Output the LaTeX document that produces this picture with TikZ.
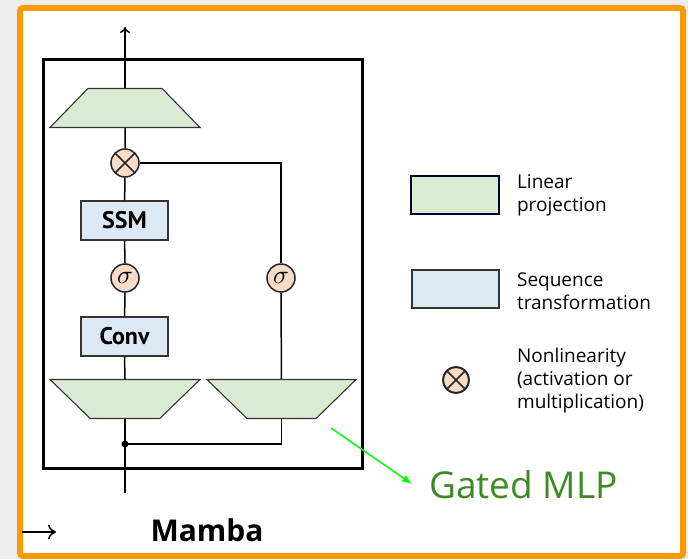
\documentclass[tikz,border=0pt]{standalone}
\usepackage{fontspec}
\usepackage{unicode-math}
\setmainfont{Open Sans}
\setmathfont{Latin Modern Math}
\newfontfamily\boxfont{PT Sans}
\usetikzlibrary{shapes.geometric,arrows.meta}
\definecolor{projgreen}{HTML}{D9EBD1}
\definecolor{seqblue}{HTML}{DCE9F5}
\definecolor{nlpeach}{HTML}{F8DCC8}
\definecolor{frameorange}{HTML}{FF9900}
\definecolor{mlpgreen}{HTML}{3E8A22}
\tikzset{
  proj/.style={trapezium, trapezium stretches=true, draw=black!80, fill=projgreen,
    line width=1.1pt, inner sep=2pt, minimum height=39pt},
  seqbox/.style={rectangle, draw=black!80, fill=seqblue, line width=1.2pt,
    minimum width=87pt, minimum height=39pt, font=\boxfont\bfseries\fontsize{24}{24}\selectfont},
  nlcircle/.style={circle, draw=black!85, fill=nlpeach, line width=1.5pt,
    minimum size=28pt, inner sep=0pt, font=\fontsize{26}{26}\selectfont},
  mulnode/.style={nlcircle, path picture={
    \draw[line width=1.5pt] (path picture bounding box.north west) -- (path picture bounding box.south east);
    \draw[line width=1.5pt] (path picture bounding box.south west) -- (path picture bounding box.north east);}},
  legtext/.style={anchor=west, align=left, font=\fontsize{19}{23}\selectfont}
}
\begin{document}
\begin{tikzpicture}[x=1pt, y=-1pt, line width=1.5pt]
    % 1. Nền và khung cam
    \useasboundingbox (0,0) rectangle (688,559);
    \fill[black!7] (0,0) rectangle (688,559);
    \draw[frameorange, line width=6pt, fill=white, rounded corners=3pt] (20,8) rectangle (683,556);

    % 2. Khối Mamba
    \draw[line width=3pt] (43,60) rectangle (362,468);
    \node[proj, minimum width=150pt, trapezium angle=63] (topproj) at (125,108) {};
    \node[mulnode] (mul) at (125,163) {};
    \node[seqbox] (ssm) at (124.5,220.5) {SSM};
    \node[nlcircle] (sigA) at (125,278) {$\sigma$};
    \node[seqbox] (conv) at (124.5,336.5) {Conv};
    \node[proj, minimum width=150pt, trapezium angle=60, shape border rotate=180] (leftproj) at (125,399) {};
    \node[proj, minimum width=149pt, trapezium angle=60, shape border rotate=180] (rightproj) at (281.5,399) {};
    \node[nlcircle] (sigB) at (281,278) {$\sigma$};
    \coordinate (in) at (125,493);
    \coordinate (out) at (125,27);
    \coordinate (split) at (125,444);

    % 3. Các đường nối
    \draw (in) -- (split) -- (leftproj);
    \draw (leftproj) -- (conv) -- (sigA) -- (ssm) -- (mul) -- (topproj);
    \draw[-{To[length=6pt,width=10pt]}] (topproj) -- (out);
    \draw (split) -| (rightproj);
    \draw (rightproj) -- (sigB);
    \draw (sigB) |- (mul);
    \fill (split) circle (3.5pt);

    % 4. Chú thích
    \node[rectangle, draw=black!80!blue, fill=projgreen, line width=1.2pt,
      minimum width=88pt, minimum height=38pt] (legproj) at (455,195) {};
    \node[legtext] (legprojtxt) at (513,195) {Linear\\projection};
    \node[rectangle, draw=black!80, fill=seqblue, line width=1.2pt,
      minimum width=87pt, minimum height=38pt] (legseq) at (455.5,289) {};
    \node[legtext] (legseqtxt) at (513,291) {Sequence\\transformation};
    \node[mulnode, minimum size=26pt, line width=2pt] (legnl) at (456,380) {};
    \node[legtext] (legnltxt) at (513,381) {Nonlinearity\\(activation or\\multiplication)};

    % 5. Gated MLP
    \coordinate (mlpfrom) at (331,428);
    \coordinate (mlpto) at (412,484);
    \draw[green, line width=1.5pt, -{Latex[length=10pt,width=8pt]}] (mlpfrom) -- (mlpto);
    \node[anchor=west, text=mlpgreen, font=\fontsize{37}{37}\selectfont] (mlp) at (425,485) {Gated MLP};

    % 6. Tiêu đề
    \node[font=\bfseries\fontsize{30}{30}\selectfont] (title) at (207,530) {Mamba};
    \coordinate (tickfrom) at (22,532);
    \coordinate (tickto) at (56,532);
    \draw[line width=1.5pt, -{To[length=8pt,width=15pt]}] (tickfrom) -- (tickto);
\end{tikzpicture}
\end{document}
